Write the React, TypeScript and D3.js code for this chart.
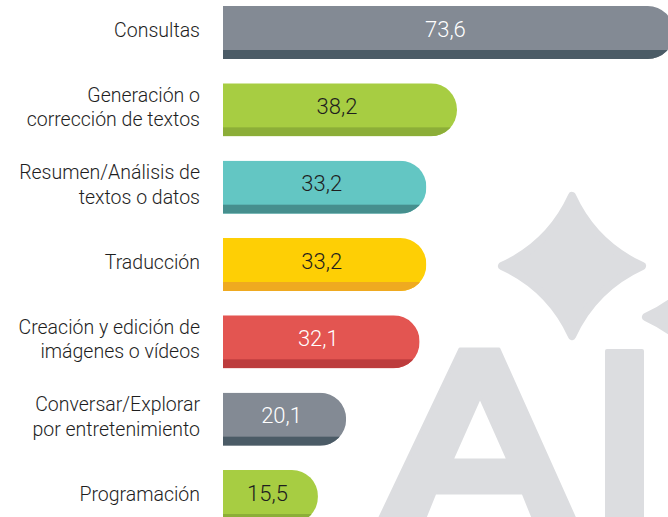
import React from "react";
import * as d3 from "d3";

const categories = [
  "Consultas",
  "Generación o\ncorrección de textos",
  "Resumen/Análisis de\ntextos o datos",
  "Traducción",
  "Creación y edición de\nimágenes o vídeos",
  "Conversar/Explorar\npor entretenimiento",
  "Programación",
];
const values = [73.6, 38.2, 33.2, 33.2, 32.1, 20.1, 15.5];
const fills = ["#838a94", "#a7cd42", "#63c6c3", "#fecf05", "#e35551", "#838a94", "#a7cd42"];
const stripes = ["#4b5b66", "#8cae38", "#468f8e", "#efaa20", "#bd3c3d", "#4b5b66", "#8cae38"];
const valueColors = ["#ffffff", "#1e1e1e", "#1e1e1e", "#1e1e1e", "#ffffff", "#ffffff", "#1e1e1e"];

const width = 668;
const height = 517;
const FONT = "Roboto, sans-serif";
const WM = "#dcdde0";

function barPath(x0: number, x1: number, y0: number, y1: number, r: number) {
  const rr = Math.min(r, (y1 - y0) / 2, x1 - x0);
  return `M${x0},${y0}H${x1 - rr}A${rr},${rr} 0 0 1 ${x1},${y0 + rr}V${y1 - rr}A${rr},${rr} 0 0 1 ${x1 - rr},${y1}H${x0}Z`;
}

function starPath(cx: number, cy: number, R: number, k: number) {
  return `M${cx},${cy - R}Q${cx + k},${cy - k} ${cx + R},${cy}Q${cx + k},${cy + k} ${cx},${cy + R}Q${cx - k},${cy + k} ${cx - R},${cy}Q${cx - k},${cy - k} ${cx},${cy - R}Z`;
}

// large "AI" watermark behind the bars
const letterA =
  "M460,349H499L580,530H538L523,493H435L420,530H374Z M480,397L452,460H508Z";

export default function App() {
  const x = d3.scaleLinear().domain([0, 80]).range([223, 713]);
  const y = d3.scaleBand<string>().domain(categories).range([6, 523]).paddingInner(0.3144).paddingOuter(0);
  const bh = y.bandwidth();

  return (
    <svg
      width={width}
      height={height}
      style={{ position: "absolute", left: 0, top: 0, background: "#fff" }}
    >
      <g fill={WM} stroke={WM} strokeLinejoin="round">
        <path d={starPath(572, 266, 70, 22)} strokeWidth={8} />
        <path d={starPath(716, 317, 70, 22)} strokeWidth={8} />
        <path d={letterA} fillRule="evenodd" strokeWidth={3} />
        <rect x={605} y={349} width={39} height={200} rx={2} strokeWidth={0} />
      </g>
      <defs>
        {categories.map((c, i) => (
          <clipPath id={`bar-clip-${i}`} key={c}>
            <path d={barPath(x(0), x(values[i]), y(c)!, y(c)! + bh, 26)} />
          </clipPath>
        ))}
      </defs>
      {categories.map((c, i) => {
        const y0 = y(c)!;
        const x1 = x(values[i]);
        const lines = c.split("\n");
        const cy = y0 + bh / 2;
        const lh = 24.5;
        return (
          <g key={c}>
            <g clipPath={`url(#bar-clip-${i})`}>
              <rect x={x(0)} y={y0} width={x1 - x(0)} height={bh} fill={fills[i]} />
              <rect x={x(0)} y={y0 + bh - 9} width={x1 - x(0)} height={9} fill={stripes[i]} />
            </g>
            <text
              x={x(0) + (x1 - x(0)) / 2 - 3}
              y={cy - 3.5}
              dy="0.35em"
              textAnchor="middle"
              fontFamily={FONT}
              fontSize={22}
              fontWeight={300}
              fill={valueColors[i]}
            >
              {d3.format(".1f")(values[i]).replace(".", ",")}
            </text>
            {lines.map((l, j) => (
              <text
                key={j}
                x={200}
                y={cy - 2.5 + (j - (lines.length - 1) / 2) * lh}
                dy="0.35em"
                textAnchor="end"
                fontFamily={FONT}
                fontSize={19.5}
                fontWeight={300}
                fill="#1e1e1e"
              >
                {l}
              </text>
            ))}
          </g>
        );
      })}
    </svg>
  );
}
